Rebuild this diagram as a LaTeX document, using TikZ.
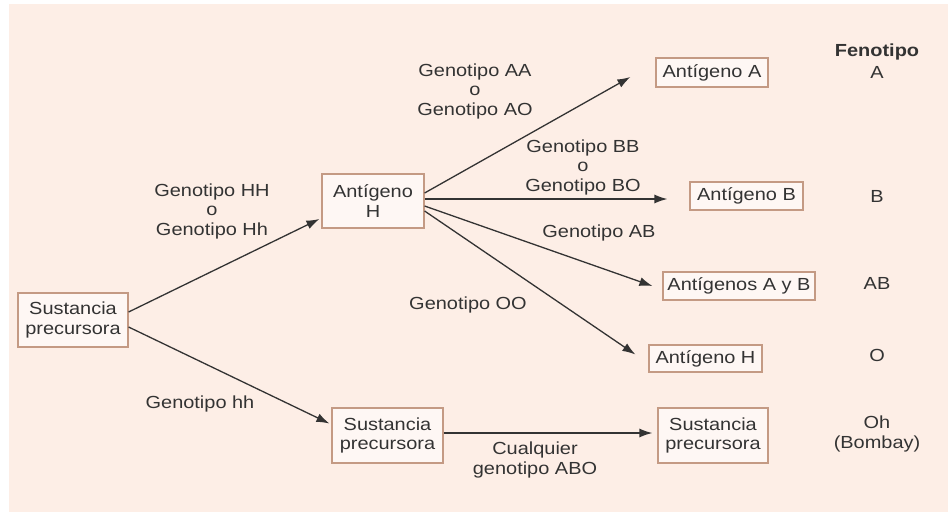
\documentclass[tikz,border=0pt]{standalone}
\usepackage{fontspec}
\setmainfont[FakeStretch=1.14]{Liberation Sans}
\usetikzlibrary{arrows.meta,calc}
\definecolor{bg}{HTML}{FDEEE6}
\definecolor{bx}{HTML}{C49A84}
\definecolor{tx}{HTML}{333333}
\begin{document}
\begin{tikzpicture}[x=1pt,y=-1pt,
  every node/.style={font=\fontsize{17.5}{19.5}\selectfont, text=tx, align=center},
  box/.style={draw=bx, line width=1.2pt, fill=white!55!bg, inner sep=0pt},
  lbl/.style={inner sep=0pt},
  arr/.style={draw=tx, line width=1.3pt, -{Latex[length=13pt,width=9pt]}}]
\useasboundingbox (0,0) rectangle (948,512);
\fill[bg] (9,4) rectangle (948,512);
% boxes
\node[box, minimum width=110pt, minimum height=54pt] (sp1) at (73,320) {Sustancia\\precursora};
\node[box, minimum width=102pt, minimum height=54pt] (ah) at (373,201) {Antígeno\\H};
\node[box, minimum width=112pt, minimum height=29pt] (aa) at (712,72.5) {Antígeno A};
\node[box, minimum width=113pt, minimum height=28pt] (ab) at (746.5,196) {Antígeno B};
\node[box, minimum width=152pt, minimum height=28pt] (aab) at (739,286) {Antígenos A y B};
\node[box, minimum width=113pt, minimum height=27pt] (ahr) at (705.5,358.5) {Antígeno H};
\node[box, minimum width=111pt, minimum height=55pt] (sp2) at (387.5,435.5) {Sustancia\\precursora};
\node[box, minimum width=110pt, minimum height=55pt] (sp3) at (713,435.5) {Sustancia\\precursora};
% arrows
\draw[arr] ($(sp1.east)+(0,-8)$) -- ($(ah.west)+(-2,18)$);
\draw[arr] ($(sp1.east)+(0,7)$) -- ($(sp2.west)+(-2,-12)$);
\draw[arr] ($(ah.east)+(0,-8)$) -- ($(aa.west)+(-25,4.5)$);
\draw[arr] ($(ah.east)+(0,-2)$) -- ($(ab.west)+(-22,3)$);
\draw[arr] ($(ah.east)+(0,5)$) -- ($(aab.west)+(-10,0)$);
\draw[arr] ($(ah.east)+(0,10)$) -- ($(ahr.west)+(-13,-4)$);
\draw[arr] ($(sp2.east)+(0,-2.5)$) -- ($(sp3.west)+(-5,-2.5)$);
% labels
\node[lbl] (l1) at (212,211) {Genotipo HH\\o\\Genotipo Hh};
\node[lbl] (l2) at (475,91) {Genotipo AA\\o\\Genotipo AO};
\node[lbl] (l3) at (583,167) {Genotipo BB\\o\\Genotipo BO};
\node[lbl] (l4) at (599,233) {Genotipo AB};
\node[lbl] (l5) at (468,305) {Genotipo OO};
\node[lbl] (l6) at (200,404) {Genotipo hh};
\node[lbl] (l7) at (535,460) {Cualquier\\genotipo ABO};
% fenotipo column
\node[lbl, font=\fontsize{17.5}{19.5}\selectfont\bfseries] (f0) at (877,52) {Fenotipo};
\node[lbl] (f1) at (877,72) {A};
\node[lbl] (f2) at (877,196) {B};
\node[lbl] (f3) at (877,283) {AB};
\node[lbl] (f4) at (877,355) {O};
\node[lbl] (f5) at (877,434) {Oh\\(Bombay)};
\end{tikzpicture}
\end{document}
